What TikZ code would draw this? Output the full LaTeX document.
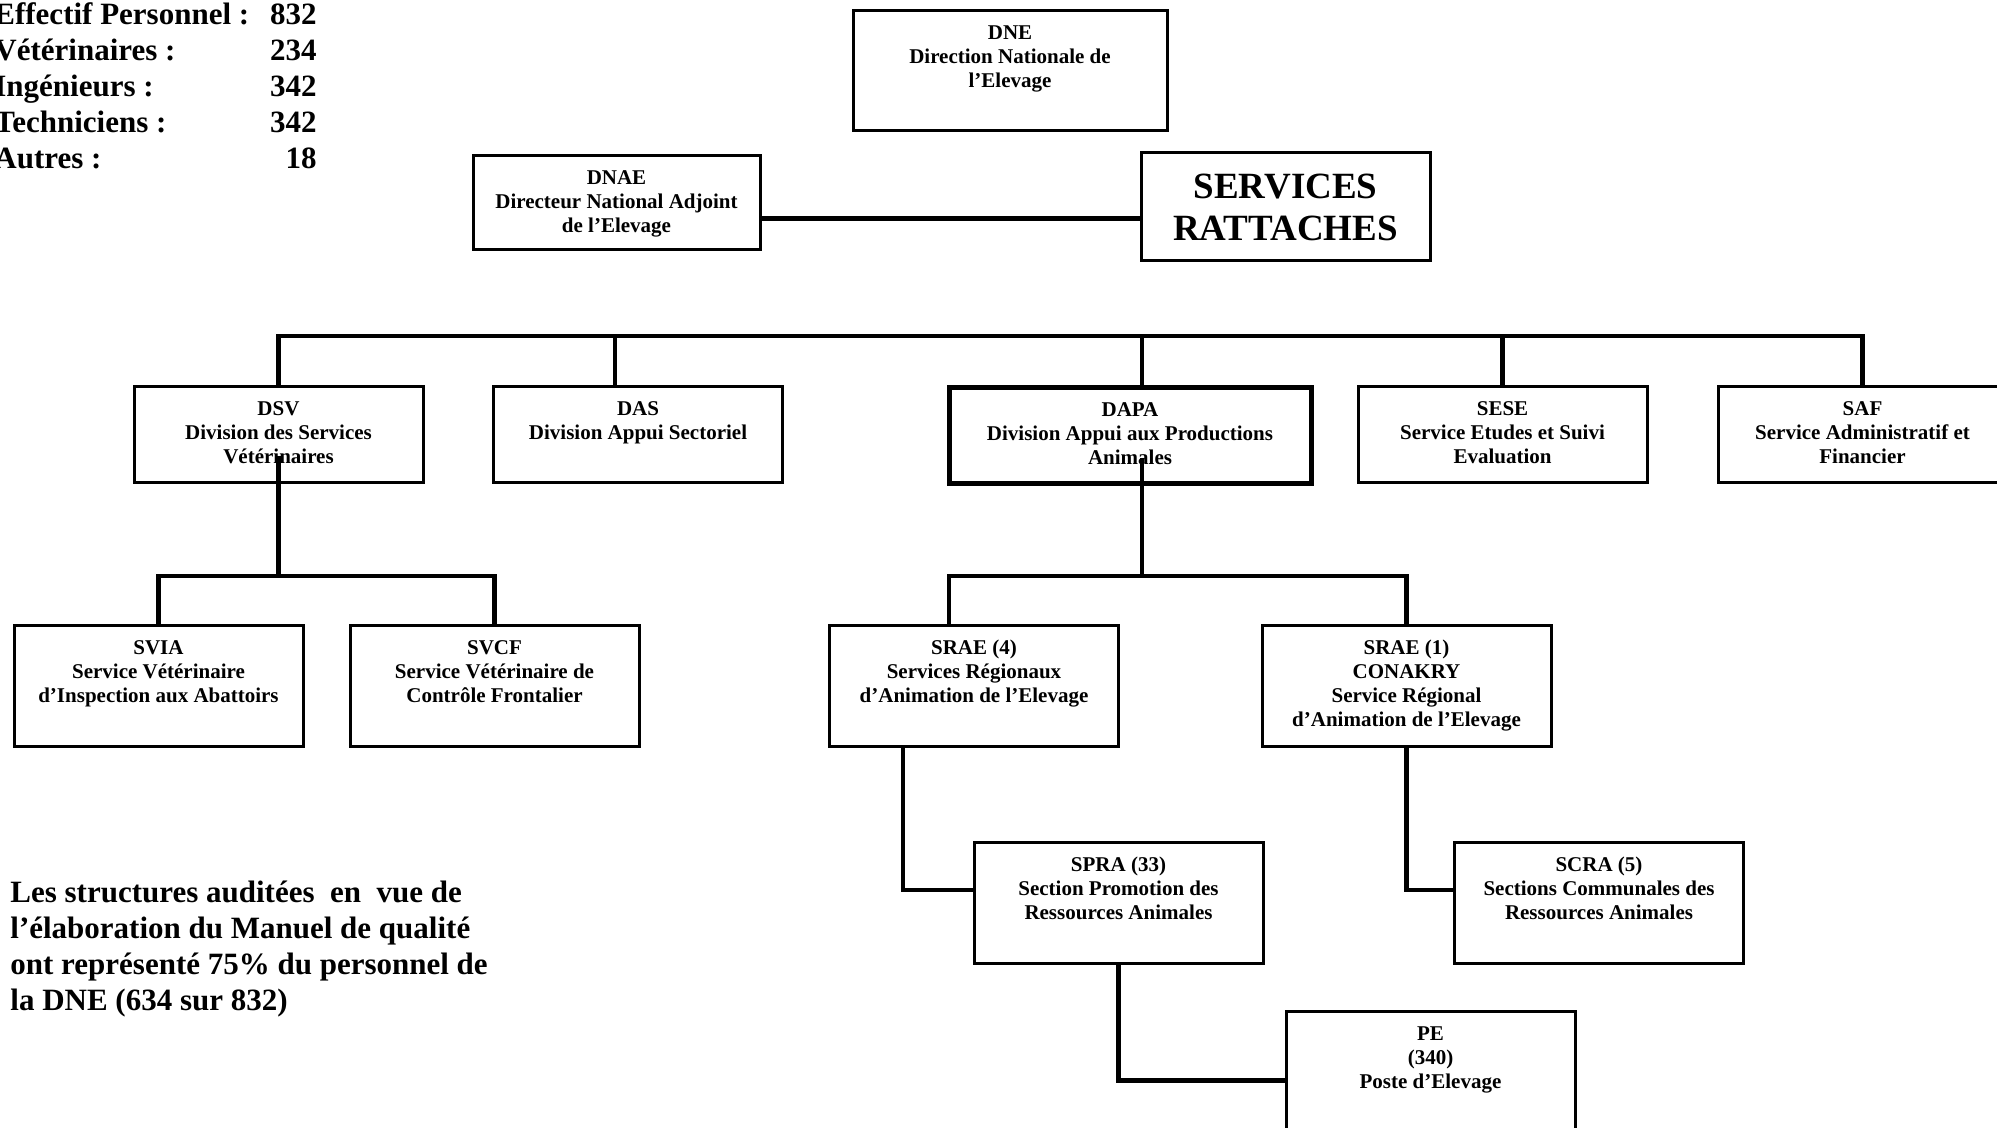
\documentclass[tikz,border=0pt]{standalone}
\usepackage{fontspec}
\setmainfont{Liberation Serif}
\usetikzlibrary{positioning}

\newcommand{\rows}[1]{\begin{tabular}[t]{@{}c@{}}#1\end{tabular}}

\begin{document}
\begin{tikzpicture}[x=0.5pt, y=-0.5pt,
    every node/.style = {font=\bfseries\fontsize{10.5}{12}\selectfont},
    unit/.style = {draw, line width=1.5pt, anchor=north, inner xsep=2pt, inner ysep=0pt,
                   minimum width=144.5pt, text height=14.5pt, text depth=33.5pt},
    tall/.style = {text depth=46pt},
    note/.style = {inner sep=0pt, align=left, font=\bfseries\fontsize{15.5}{18}\selectfont},
    link/.style = {line width=2.2pt}]
  \useasboundingbox (0,0) rectangle (1997,1128);

  \foreach \name/\val [count=\i] in {Effectif Personnel :/832, Vétérinaires :/234,
      Ingénieurs :/342, Techniciens :/342, Autres :/18} {
    \node[note, anchor=base west] (stat\i) at (-6,{-11+36*\i}) {\name};
    \node[note, anchor=base east] (num\i) at (317,{-11+36*\i}) {\val};
  }
  \node[note, anchor=base west] (audit) at (10,1010)
    {Les structures auditées\ \ en\ \ vue de\\l’élaboration du Manuel de qualité\\
     ont représenté 75\% du personnel de\\la DNE (634 sur 832)};

  \node[unit, minimum width=157pt, text depth=45.5pt] (dne) at (1010,9) {\rows{DNE\\Direction Nationale de\\l’Elevage}};
  \node[unit, minimum width=143.5pt, text depth=32.5pt] (dnae) at (616.5,154) {\rows{DNAE\\Directeur National Adjoint\\de l’Elevage}};
  \node[draw, line width=1.5pt, minimum width=144.5pt, minimum height=54pt, align=center,
        font=\bfseries\fontsize{18.5}{21}\selectfont] (serv) at (1285.5,207) {SERVICES\\RATTACHES};

  \node[unit] (dsv) at (278.5,385) {\rows{DSV\\Division des Services\\Vétérinaires}};
  \node[unit] (das) at (638,385) {\rows{DAS\\Division Appui Sectoriel}};
  \node[unit, line width=2.5pt, minimum width=181pt] (dapa) at (1130,385) {\rows{DAPA\\Division Appui aux Productions\\Animales}};
  \node[unit] (sese) at (1502.5,385) {\rows{SESE\\Service Etudes et Suivi\\Evaluation}};
  \node[unit] (saf) at (1862.5,385) {\rows{SAF\\Service Administratif et\\Financier}};

  \node[unit, tall] (svia) at (158.5,624) {\rows{SVIA\\Service Vétérinaire\\d’Inspection aux Abattoirs}};
  \node[unit, tall] (svcf) at (494.5,624) {\rows{SVCF\\Service Vétérinaire de\\Contrôle Frontalier}};
  \node[unit, tall] (srae4) at (974,624) {\rows{SRAE (4)\\Services Régionaux\\d’Animation de l’Elevage}};
  \node[unit, tall] (srae1) at (1406.5,624) {\rows{SRAE (1)\\CONAKRY\\Service Régional\\d’Animation de l’Elevage}};
  \node[unit, tall] (spra) at (1118.5,841) {\rows{SPRA (33)\\Section Promotion des\\Ressources Animales}};
  \node[unit, tall] (scra) at (1599,841) {\rows{SCRA (5)\\Sections Communales des\\Ressources Animales}};
  \node[unit, text depth=45.5pt] (pe) at (1430.5,1010) {\rows{PE\\(340)\\Poste d’Elevage}};

  \draw[link] ([yshift=-8pt]dnae.east) -- ([yshift=-8pt]dnae.east -| serv.west);

  \coordinate (bus) at (0,336);
  \draw[link] (dsv.north) -- (dsv.north |- bus) -- (saf.north |- bus) -- (saf.north);
  \draw[link] ([xshift=-11.5pt]das.north) -- ([xshift=-11.5pt]das.north |- bus);
  \draw[link] ([xshift=6pt]dapa.north) -- ([xshift=6pt]dapa.north |- bus);
  \draw[link] (sese.north) -- (sese.north |- bus);

  \coordinate (lowbus) at (0,576);
  \draw[link] ([yshift=14pt]dsv.south) -- (dsv.south |- lowbus);
  \draw[link] (svia.north) -- (svia.north |- lowbus) -- (svcf.north |- lowbus) -- (svcf.north);
  \draw[link] ([xshift=6pt,yshift=14pt]dapa.south) -- ([xshift=6pt]dapa.south |- lowbus);
  \draw[link] ([xshift=-12.5pt]srae4.north) -- ([xshift=-12.5pt]srae4.north |- lowbus)
    -- (srae1.north |- lowbus) -- (srae1.north);

  \draw[link] ([xshift=-35.5pt]srae4.south) |- ([yshift=6.5pt]spra.west);
  \draw[link] (srae1.south) |- ([yshift=6.5pt]scra.west);
  \draw[link] (spra.south) |- ([yshift=-4.5pt]pe.west);
\end{tikzpicture}
\end{document}
